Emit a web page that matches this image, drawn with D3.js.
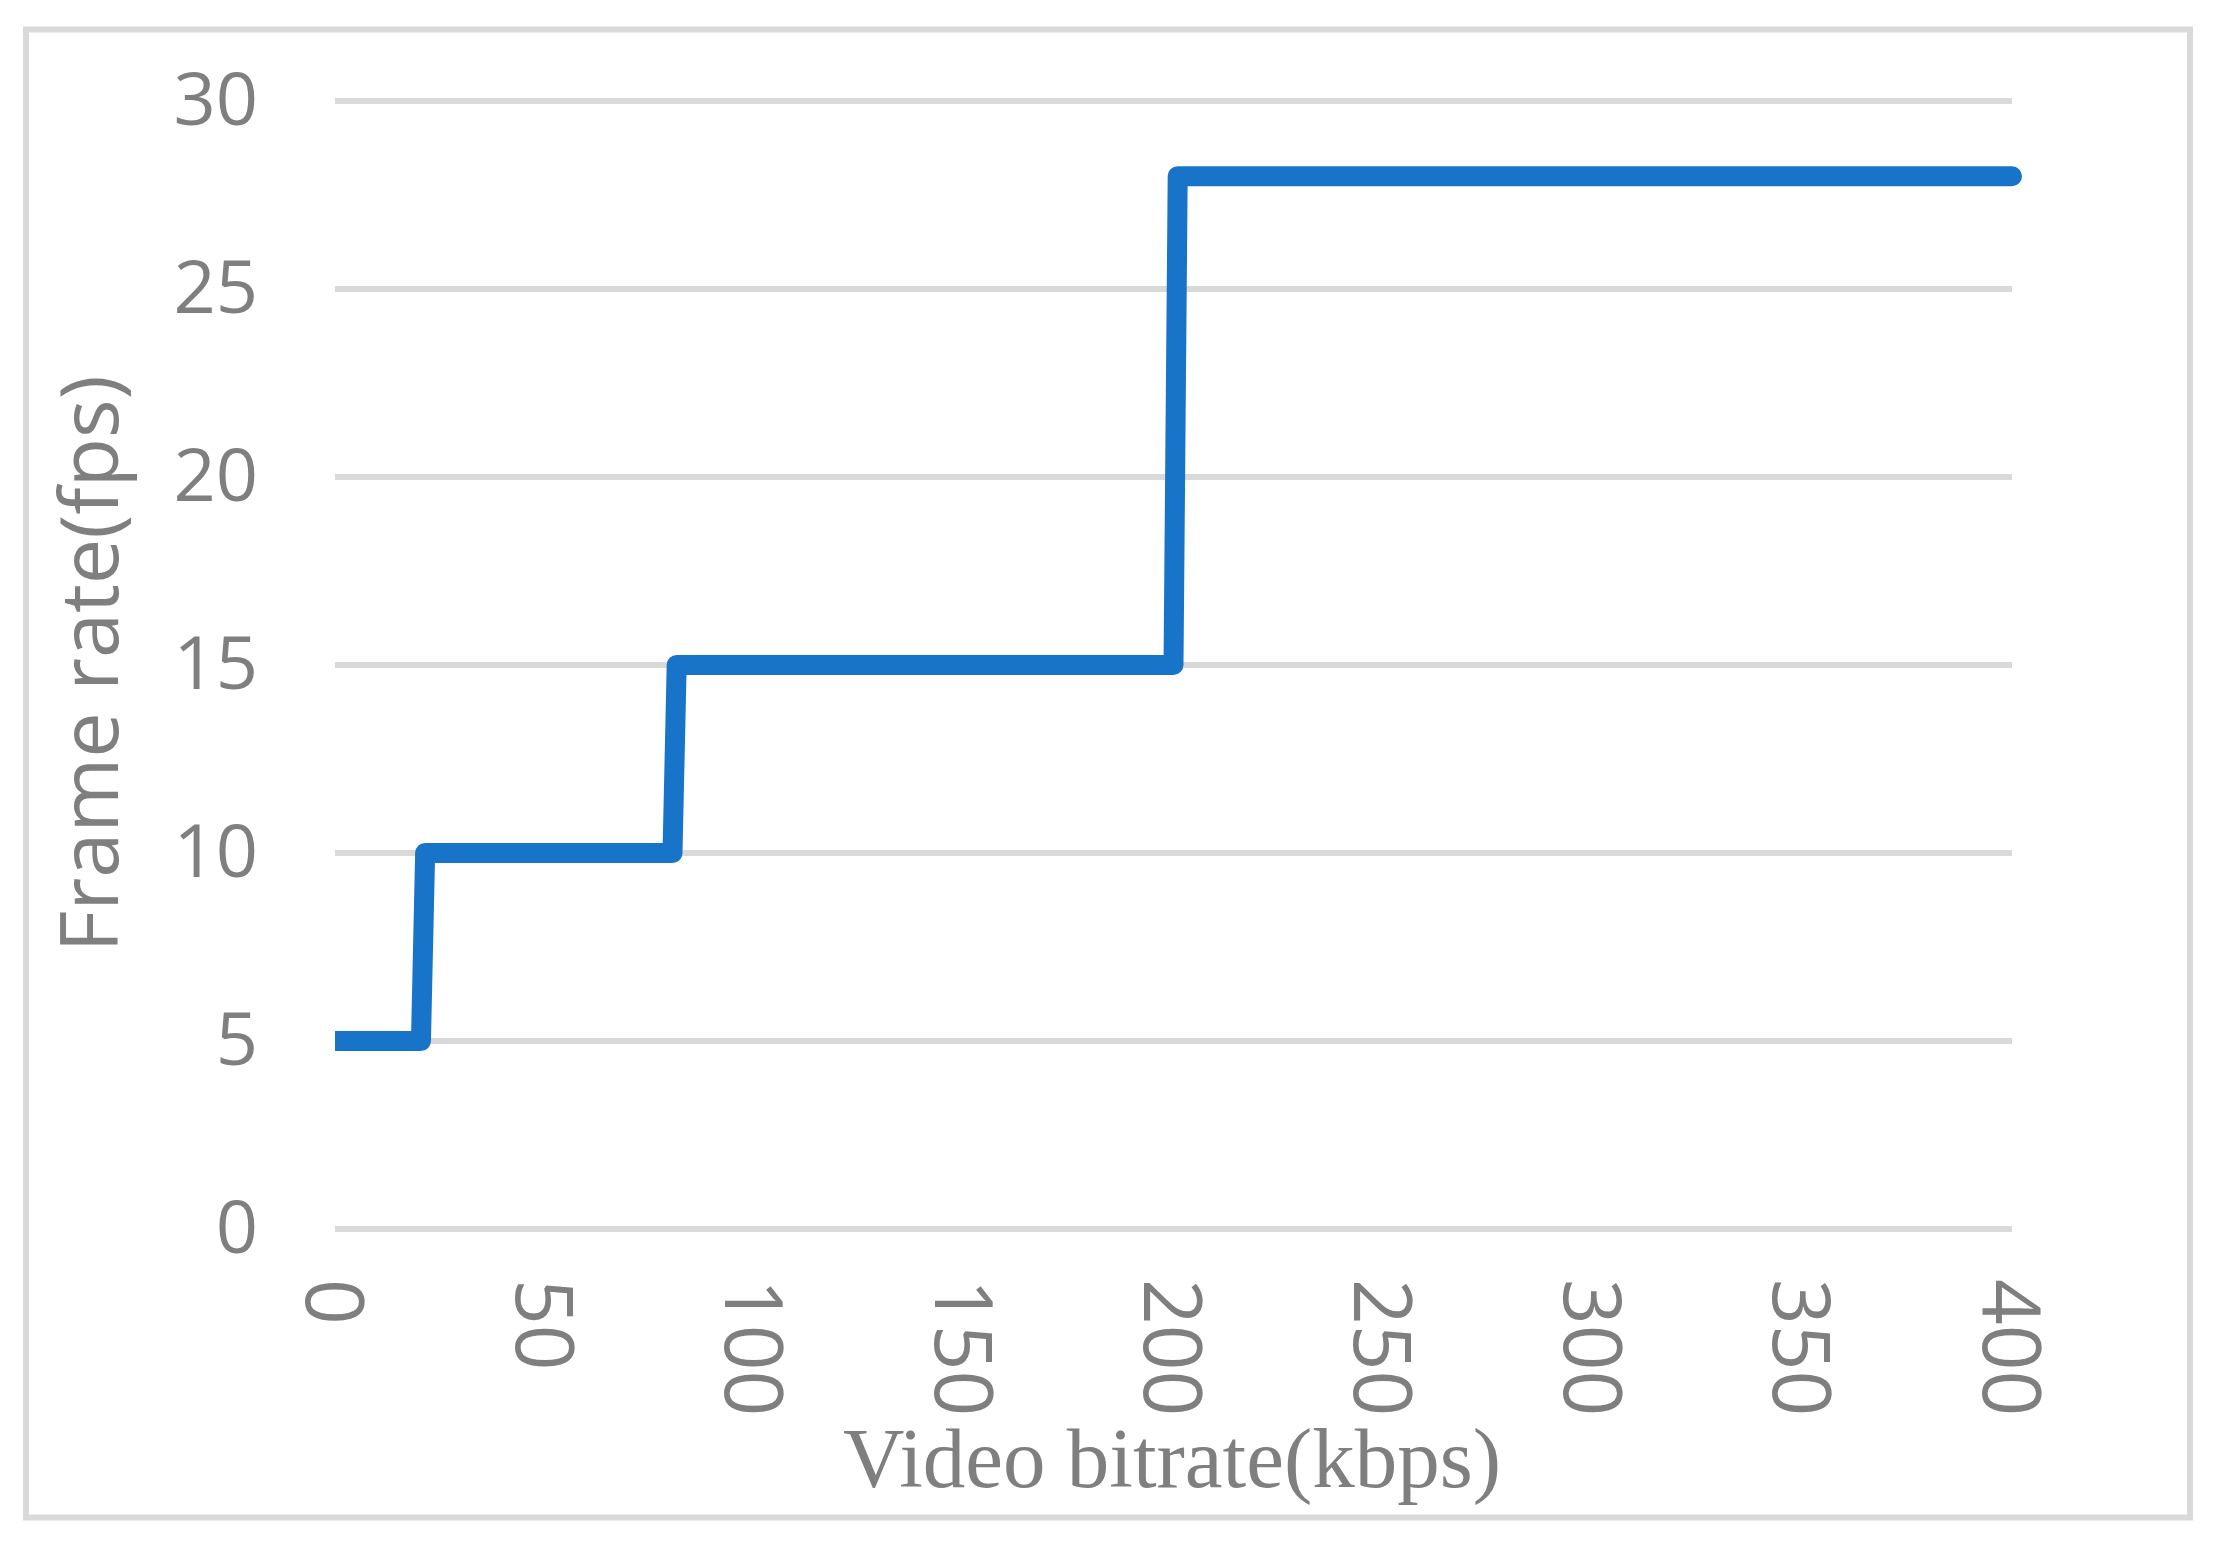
<!DOCTYPE html>
<html lang="en">
	<head>
		<meta charset="utf-8">
		<title>Frame rate vs video bitrate</title>
		<script src="https://d3js.org/d3.v7.min.js"></script>
		<style type="text/css">
			html, body { margin: 0; padding: 0; background: #fff; }
		</style>
	</head>
	<body>
		<script type="text/javascript">
			//Width and height
			var w = 2220;
			var h = 1547;

			// step points
			var bitrate = [0, 20.5, 21.5, 80.5, 81.5, 200, 201, 400];
			var fps = [5, 5, 10, 10, 15, 15, 28, 28];
			var xTicks = [0, 50, 100, 150, 200, 250, 300, 350, 400];
			var yTicks = [0, 5, 10, 15, 20, 25, 30];

			var grey = "#7f7f7f";
			var gridColor = "#d9d9d9";
			var lineColor = "#1874c8";

			var svg = d3.select("body")
						.append("svg")
						.attr("width", w)
						.attr("height", h);

			svg.append("rect")
				.attr("width", w)
				.attr("height", h)
				.attr("fill", "#fff");

			// outer frame
			svg.append("rect")
				.attr("x", 26)
				.attr("y", 29.5)
				.attr("width", 2164)
				.attr("height", 1488)
				.attr("fill", "none")
				.attr("stroke", gridColor)
				.attr("stroke-width", 6);

			var xscale = d3.scaleLinear()
						.domain([0, 400])
						.range([335, 2012]);

			var yscale = d3.scaleLinear()
						.domain([0, 30])
						.range([1229, 101]);

			// gridlines
			svg.append("g")
				.selectAll("line")
				.data(yTicks)
				.enter()
				.append("line")
				.attr("x1", xscale(0))
				.attr("x2", xscale(400))
				.attr("y1", function(d) { return yscale(d); })
				.attr("y2", function(d) { return yscale(d); })
				.attr("stroke", gridColor)
				.attr("stroke-width", 6);

			// y axis
			var yAxis = svg.append("g")
				.attr("transform", "translate(258,0)")
				.call(d3.axisLeft(yscale).tickValues(yTicks).tickSize(0).tickPadding(0));
			yAxis.select(".domain").remove();
			yAxis.selectAll("text")
				.attr("font-family", "'Open Sans', sans-serif")
				.attr("font-size", "74px")
				.attr("fill", grey);

			// x axis, labels turned a quarter clockwise
			var xAxis = svg.append("g")
				.attr("transform", "translate(0,1279)")
				.call(d3.axisBottom(xscale).tickValues(xTicks).tickSize(0).tickPadding(0));
			xAxis.select(".domain").remove();
			xAxis.selectAll("text")
				.attr("font-family", "'Open Sans', sans-serif")
				.attr("font-size", "80px")
				.attr("fill", grey)
				.attr("text-anchor", "start")
				.attr("x", 0)
				.attr("y", 0)
				.attr("dy", "0.37em")
				.attr("transform", "rotate(90)");

			// clip so the line starts flat at x = 0
			svg.append("clipPath")
				.attr("id", "plotclip")
				.append("rect")
				.attr("x", xscale(0))
				.attr("y", 0)
				.attr("width", w - xscale(0))
				.attr("height", h);

			var line = d3.line()
				.x(function(d) { return xscale(d[0]); })
				.y(function(d) { return yscale(d[1]); });

			svg.append("path")
				.datum(d3.zip(bitrate, fps))
				.attr("clip-path", "url(#plotclip)")
				.attr("d", line)
				.attr("fill", "none")
				.attr("stroke", lineColor)
				.attr("stroke-width", 20)
				.attr("stroke-linejoin", "round")
				.attr("stroke-linecap", "round");

			// axis titles
			svg.append("text")
				.attr("x", 1172)
				.attr("y", 1487)
				.attr("text-anchor", "middle")
				.attr("font-family", "'Liberation Serif', 'Times New Roman', serif")
				.attr("font-size", "85px")
				.attr("fill", grey)
				.text("Video bitrate(kbps)");

			svg.append("text")
				.attr("transform", "translate(118,664) rotate(-90)")
				.attr("text-anchor", "middle")
				.attr("font-family", "'Open Sans', sans-serif")
				.attr("font-size", "81px")
				.attr("fill", grey)
				.text("Frame rate(fps)");
		</script>
	</body>
</html>
